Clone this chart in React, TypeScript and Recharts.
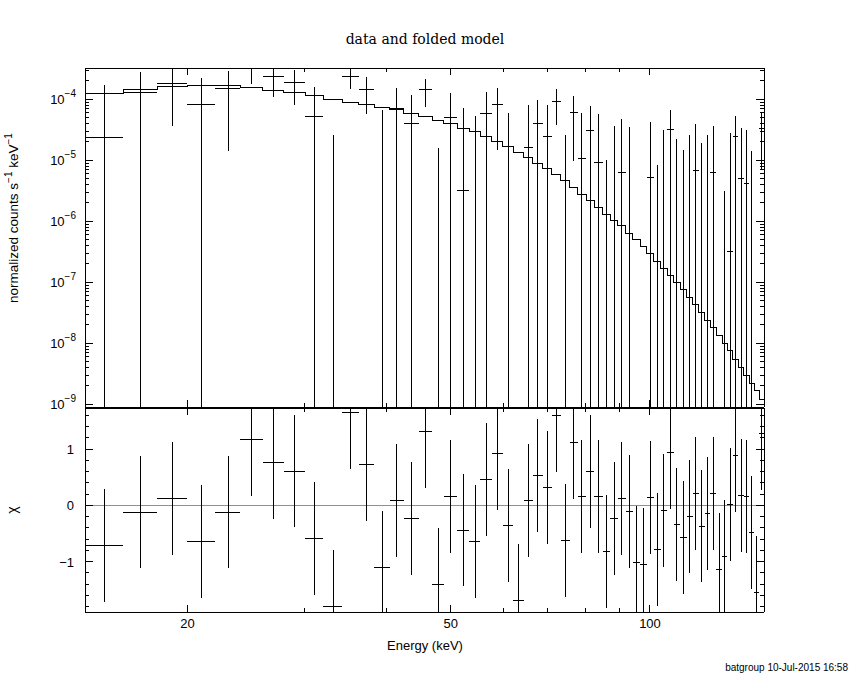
import React from 'react';
import { ComposedChart, Scatter, Line, XAxis, YAxis, ErrorBar, ReferenceLine } from 'recharts';

// ---- data ----
const EDGES = [
  14.02, 15.99, 18.0, 19.98, 22.03, 24.03, 25.99, 27.97, 30.14, 32.09,
  34.28, 36.32, 38.32, 40.42, 42.48, 44.71, 46.9, 48.83, 51.17, 53.36,
  55.44, 57.67, 59.86, 62.19, 64.4, 66.52, 68.8, 71.07, 73.26, 75.59,
  77.73, 80.09, 82.35, 84.8, 87.07, 89.44, 91.88, 94.24, 96.67, 98.95,
  101.39, 103.78, 106.19, 108.59, 111.11, 113.62, 116.02, 118.47, 120.98, 123.36,
  125.96, 128.49, 130.89, 133.37, 136.0, 138.58, 141.17, 143.65, 146.33, 149.0,
];

const RATE = [
  2.38e-5, 1.30e-4, 1.83e-4, 8.37e-5, 1.52e-4, 3.14e-4, 2.41e-4, 1.90e-4, 5.26e-5, -6.77e-5,
  2.41e-4, 1.46e-4, -1.82e-5, 7.12e-5, 4.04e-5, 1.46e-4, -5.6e-5, 5.07e-5, 3.22e-6, -1.28e-5,
  5.74e-5, 8.37e-5, -7.8e-6, -9.6e-5, 1.63e-5, 3.94e-5, 2.47e-5, 9.27e-5, -3.0e-5, 6.12e-5,
  1.06e-5, 3.10e-5, 9.27e-6, -3.9e-5, -9.7e-6, 6.19e-6, -3.7e-6, -4.1e-5, -4.2e-5, 5.13e-6,
  -2.86e-5, -3.0e-6, 3.22e-5, -1.15e-5, -2.0e-5, -6.5e-6, 6.68e-6, -1.14e-5, -4.2e-6, 6.36e-6,
  -3.42e-5, -2.75e-5, 3.17e-7, 2.50e-5, 5.07e-6, 4.20e-6, -1.31e-5, -4.2e-5, 3.3e-5,
];

const RATE_ERR = [
  1.48e-4, 1.47e-4, 1.47e-4, 1.37e-4, 1.38e-4, 1.36e-4, 1.31e-4, 1.10e-4, 1.05e-4, 9.37e-5,
  9.5e-5, 8.8e-5, 8.5e-5, 8.0e-5, 7.7e-5, 7.1e-5, 7.2e-5, 7.5e-5, 6.96e-5, 6.6e-5,
  7.3e-5, 6.9e-5, 6.8e-5, 6.5e-5, 6.4e-5, 5.8e-5, 5.6e-5, 5.5e-5, 5.6e-5, 5.15e-5,
  4.97e-5, 4.67e-5, 4.8e-5, 4.9e-5, 4.66e-5, 4.08e-5, 3.93e-5, 4.0e-5, 4.0e-5, 3.69e-5,
  3.7e-5, 3.43e-5, 3.46e-5, 3.38e-5, 3.5e-5, 3.25e-5, 3.22e-5, 3.08e-5, 3.02e-5, 3.01e-5,
  3.0e-5, 3.06e-5, 2.8e-5, 2.82e-5, 2.92e-5, 2.72e-5, 2.73e-5, 2.7e-5, 2.6e-5,
];

const MODEL = [
  1.254e-4, 1.475e-4, 1.652e-4, 1.715e-4, 1.696e-4, 1.59e-4, 1.404e-4, 1.283e-4, 1.163e-4, 1.0e-4,
  8.93e-5, 8.15e-5, 7.39e-5, 6.68e-5, 5.9e-5, 5.19e-5, 4.46e-5, 3.94e-5, 3.35e-5, 2.94e-5,
  2.44e-5, 2.02e-5, 1.67e-5, 1.35e-5, 1.12e-5, 8.93e-6, 7.39e-6, 5.9e-6, 4.58e-6, 3.61e-6,
  2.77e-6, 2.18e-6, 1.7e-6, 1.3e-6, 1.02e-6, 8.37e-7, 6.36e-7, 4.94e-7, 3.83e-7, 2.99e-7,
  2.23e-7, 1.7e-7, 1.28e-7, 9.85e-8, 7.48e-8, 5.59e-8, 4.24e-8, 3.17e-8, 2.38e-8, 1.8e-8,
  1.35e-8, 9.85e-9, 7.48e-9, 5.47e-9, 4.04e-9, 2.94e-9, 2.21e-9, 1.65e-9, 1.21e-9,
];

const CHI = [
  -0.71, -0.12, 0.12, -0.64, -0.12, 1.17, 0.76, 0.61, -0.59, -1.79,
  1.65, 0.73, -1.1, 0.09, -0.23, 1.31, -1.4, 0.16, -0.44, -0.64,
  0.46, 0.92, -0.36, -1.69, 0.09, 0.53, 0.32, 1.6, -0.62, 1.12,
  0.16, 0.6, 0.16, -0.82, -0.23, 0.12, -0.11, -1.02, -1.05, 0.14,
  -0.78, -0.09, 0.94, -0.34, -0.57, -0.2, 0.21, -0.37, -0.14, 0.21,
  -1.14, -0.9, 0.02, 0.89, 0.18, 0.16, -0.48, -1.55, 1.28,
];
const CHI_ERR = 1;

// ---- axes ----
const XMIN = 14.0;
const XMAX = 148.7;
const YMIN = 9.0e-10;
const YMAX = 3.26e-4;
const CMIN = -1.895;
const CMAX = 1.73;

const X_TICKS = [20, 30, 40, 50, 60, 70, 80, 90, 100];
const X_LABELS = [20, 50, 100];
const Y_DECADES = [1e-10, 1e-9, 1e-8, 1e-7, 1e-6, 1e-5, 1e-4];
const Y_MANTISSAS = [1, 2, 3, 4, 5, 6, 7, 8, 9];
const C_TICKS = [-1.8, -1.6, -1.4, -1.2, -1, -0.8, -0.6, -0.4, -0.2, 0, 0.2, 0.4, 0.6, 0.8, 1, 1.2, 1.4, 1.6];
const C_LABELS = [-1, 0, 1];

const Y_TICKS: number[] = [];
Y_DECADES.forEach((d) => Y_MANTISSAS.forEach((m) => {
  const v = d * m;
  if (v >= YMIN && v <= YMAX) Y_TICKS.push(v);
}));

const FONT = "'Liberation Sans', 'DejaVu Sans', Arial, sans-serif";
const clamp = (v: number, lo: number, hi: number) => Math.min(Math.max(v, lo), hi);

const specPoints = RATE.map((r, i) => {
  const lo = EDGES[i];
  const hi = EDGES[i + 1];
  const xc = (lo + hi) / 2;
  const yc = clamp(r, YMIN, YMAX);
  const yLo = clamp(r - RATE_ERR[i], YMIN, YMAX);
  const yHi = clamp(r + RATE_ERR[i], YMIN, YMAX);
  return { x: xc, y: yc, ex: [xc - lo, hi - xc], ey: [yc - yLo, yHi - yc] };
});

const modelPoints = MODEL.map((m, i) => ({ x: EDGES[i], y: m })).concat([
  { x: EDGES[EDGES.length - 1], y: MODEL[MODEL.length - 1] },
]);

const chiPoints = CHI.map((c, i) => {
  const lo = EDGES[i];
  const hi = EDGES[i + 1];
  const xc = (lo + hi) / 2;
  const yc = clamp(c, CMIN, CMAX);
  const yLo = clamp(c - CHI_ERR, CMIN, CMAX);
  const yHi = clamp(c + CHI_ERR, CMIN, CMAX);
  return { x: xc, y: yc, ex: [xc - lo, hi - xc], ey: [yc - yLo, yHi - yc] };
});

// ---- tick renderers ----
const mkXTick = (dir: 'up' | 'down', showLabel: boolean) => (props: any) => {
  const { x, y, payload } = props;
  const v = payload.value;
  const major = X_LABELS.includes(v);
  const len = major ? 7 : 4;
  const y2 = dir === 'up' ? y - len : y + len;
  return (
    <g>
      <line x1={x} y1={y} x2={x} y2={y2} stroke="#000" strokeWidth={1} />
      {showLabel && major ? (
        <text x={x} y={y + 16} textAnchor="middle" fontFamily={FONT} fontSize={13} fill="#000">
          {v}
        </text>
      ) : null}
    </g>
  );
};

const mkLogYTick = (side: 'left' | 'right') => (props: any) => {
  const { x, y, payload } = props;
  const v = payload.value;
  const e = Math.round(Math.log10(v));
  const major = Math.abs(v / Math.pow(10, e) - 1) < 1e-6;
  const len = major ? 8 : 4;
  const x2 = side === 'left' ? x + len : x - len;
  return (
    <g>
      <line x1={x} y1={y} x2={x2} y2={y} stroke="#000" strokeWidth={1} />
      {side === 'left' && major ? (
        <text x={x - 9} y={y + 4.5} textAnchor="end" fontFamily={FONT} fontSize={13} fill="#000">
          10
          <tspan dy={-7} fontSize={10}>{'\u2212' + Math.abs(e)}</tspan>
        </text>
      ) : null}
    </g>
  );
};

const mkLinYTick = (side: 'left' | 'right') => (props: any) => {
  const { x, y, payload } = props;
  const v = payload.value;
  const major = C_LABELS.some((c) => Math.abs(c - v) < 1e-6);
  const len = major ? 8 : 4;
  const x2 = side === 'left' ? x + len : x - len;
  const label = v < 0 ? '\u2212' + Math.abs(Math.round(v)) : String(Math.round(v));
  return (
    <g>
      <line x1={x} y1={y} x2={x2} y2={y} stroke="#000" strokeWidth={1} />
      {side === 'left' && major ? (
        <text x={x - 11} y={y + 5} textAnchor="end" fontFamily={FONT} fontSize={13} fill="#000">
          {label}
        </text>
      ) : null}
    </g>
  );
};

const axisCommon = {
  tickSize: 0,
  tickMargin: 0,
  interval: 0 as const,
  axisLine: { stroke: '#000', strokeWidth: 1 },
  tickLine: false,
  allowDataOverflow: true,
  type: 'number' as const,
};

const Empty = () => <g />;

export default function App() {
  return (
    <div style={{ position: 'absolute', left: 0, top: 0, width: 850, height: 680, background: '#fff', shapeRendering: 'crispEdges' } as any}>
      {/* top panel: spectrum */}
      <div style={{ position: 'absolute', left: 0, top: 0 }}>
        <ComposedChart width={850} height={420} margin={{ top: 67, right: 85, bottom: 12, left: 84 }}>
          <XAxis xAxisId="b" dataKey="x" scale="log" domain={[XMIN, XMAX]} ticks={X_TICKS} height={1} tick={mkXTick('up', false)} {...axisCommon} />
          <XAxis xAxisId="t" orientation="top" dataKey="x" scale="log" domain={[XMIN, XMAX]} ticks={X_TICKS} height={1} tick={mkXTick('down', false)} {...axisCommon} />
          <YAxis yAxisId="l" dataKey="y" scale="log" domain={[YMIN, YMAX]} ticks={Y_TICKS} width={1} tick={mkLogYTick('left')} {...axisCommon} />
          <YAxis yAxisId="r" orientation="right" dataKey="y" scale="log" domain={[YMIN, YMAX]} ticks={Y_TICKS} width={1} tick={mkLogYTick('right')} {...axisCommon} />
          <Scatter xAxisId="b" yAxisId="l" data={specPoints} dataKey="y" shape={Empty} isAnimationActive={false}>
            <ErrorBar dataKey="ey" direction="y" width={0} stroke="#000" strokeWidth={1} isAnimationActive={false} />
            <ErrorBar dataKey="ex" direction="x" width={0} stroke="#000" strokeWidth={1} isAnimationActive={false} />
          </Scatter>
          <Line xAxisId="b" yAxisId="l" data={modelPoints} dataKey="y" type="stepAfter" stroke="#000" strokeWidth={1} dot={false} activeDot={false} isAnimationActive={false} />
        </ComposedChart>
      </div>

      {/* bottom panel: residuals */}
      <div style={{ position: 'absolute', left: 0, top: 0 }}>
        <ComposedChart width={850} height={680} margin={{ top: 407, right: 85, bottom: 67, left: 84 }}>
          <XAxis xAxisId="b" dataKey="x" scale="log" domain={[XMIN, XMAX]} ticks={X_TICKS} height={1} tick={mkXTick('up', true)} {...axisCommon} />
          <XAxis xAxisId="t" orientation="top" dataKey="x" scale="log" domain={[XMIN, XMAX]} ticks={X_TICKS} height={1} tick={mkXTick('down', false)} {...axisCommon} />
          <YAxis yAxisId="l" dataKey="y" domain={[CMIN, CMAX]} ticks={C_TICKS} width={1} tick={mkLinYTick('left')} {...axisCommon} />
          <YAxis yAxisId="r" orientation="right" dataKey="y" domain={[CMIN, CMAX]} ticks={C_TICKS} width={1} tick={mkLinYTick('right')} {...axisCommon} />
          <ReferenceLine xAxisId="b" yAxisId="l" y={0} stroke="#22dd22" strokeWidth={1} ifOverflow="hidden" />
          <Scatter xAxisId="b" yAxisId="l" data={chiPoints} dataKey="y" shape={Empty} isAnimationActive={false}>
            <ErrorBar dataKey="ey" direction="y" width={0} stroke="#000" strokeWidth={1} isAnimationActive={false} />
            <ErrorBar dataKey="ex" direction="x" width={0} stroke="#000" strokeWidth={1} isAnimationActive={false} />
          </Scatter>
        </ComposedChart>
      </div>

      {/* texts */}
      <svg width={850} height={680} style={{ position: 'absolute', left: 0, top: 0, pointerEvents: 'none' }}>
        <text x={425} y={44} textAnchor="middle" fontFamily="'DejaVu Serif', 'Liberation Serif', serif" fontSize={14} fill="#000">
          data and folded model
        </text>
        <text x={18} y={218} transform="rotate(-90 18 218)" textAnchor="middle" fontFamily={FONT} fontSize={13.5} fill="#000">
          normalized counts s
          <tspan dy={-6} fontSize={10}>{'\u22121'}</tspan>
          <tspan dy={6}>{'  keV'}</tspan>
          <tspan dy={-6} fontSize={10}>{'\u22121'}</tspan>
        </text>
        <text x={17} y={510} transform="rotate(-90 17 510)" textAnchor="middle" fontFamily={FONT} fontSize={14} fill="#000">
          χ
        </text>
        <text x={425} y={650} textAnchor="middle" fontFamily={FONT} fontSize={13} fill="#000">
          Energy (keV)
        </text>
        <text x={848} y={671} textAnchor="end" fontFamily={FONT} fontSize={10} fill="#000">
          batgroup 10-Jul-2015 16:58
        </text>
      </svg>
    </div>
  );
}
